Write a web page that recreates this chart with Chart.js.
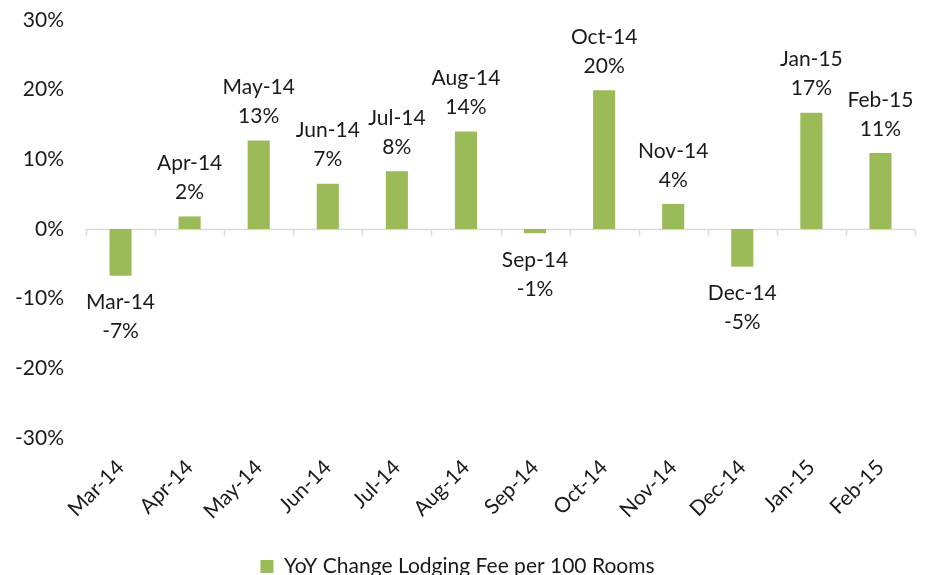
<!DOCTYPE html>
<html>
<head>
<meta charset="utf-8">
<script src="https://cdn.jsdelivr.net/npm/chart.js@4/dist/chart.umd.min.js"></script>
<style>
  html, body { margin: 0; padding: 0; background: #fff; }
  #wrap { width: 928px; height: 575px; position: relative; }
</style>
</head>
<body>
<div id="wrap"><canvas id="main-chart"></canvas></div>
<script>
// ---- Data ----
const MONTHS = ["Mar-14", "Apr-14", "May-14", "Jun-14", "Jul-14", "Aug-14",
                "Sep-14", "Oct-14", "Nov-14", "Dec-14", "Jan-15", "Feb-15"];
const YOY_CHANGE = [-6.7, 1.8, 12.7, 6.5, 8.3, 14.0, -0.6, 19.9, 3.6, -5.4, 16.7, 10.9];
const POINT_LABELS = ["-7%", "2%", "13%", "7%", "8%", "14%", "-1%", "20%", "4%", "-5%", "17%", "11%"];
const SERIES_NAME = "YoY Change Lodging Fee per 100 Rooms";

const BAR_COLOUR = "#9BBB59";
const AXIS_COLOUR = "#D9D9D9";
const TEXT_COLOUR = "#1a1a1a";
const FONT = "Lato, Carlito, 'Open Sans', sans-serif";
const FONT_SIZE = 21;

// ---- Plugin: zero line with category tick marks ----
const zeroAxisPlugin = {
  id: "zeroAxis",
  beforeDatasetsDraw(chart) {
    const { ctx, chartArea } = chart;
    const y = Math.round(chart.scales.y.getPixelForValue(0)) + 0.5;
    const x = chart.scales.x;
    const n = MONTHS.length;
    const step = (x.right - x.left) / n;
    ctx.save();
    ctx.strokeStyle = AXIS_COLOUR;
    ctx.lineWidth = 1.5;
    ctx.beginPath();
    ctx.moveTo(chartArea.left, y);
    ctx.lineTo(chartArea.right, y);
    for (let i = 0; i <= n; i++) {
      const px = Math.round(x.left + i * step) + 0.5;
      ctx.moveTo(px, y);
      ctx.lineTo(px, y + 6);
    }
    ctx.stroke();
    ctx.restore();
  },
};

// ---- Plugin: two-line data labels (month + value) ----
const dataLabelPlugin = {
  id: "dataLabels",
  afterDatasetsDraw(chart) {
    const { ctx } = chart;
    const meta = chart.getDatasetMeta(0);
    ctx.save();
    ctx.font = FONT_SIZE + "px " + FONT;
    ctx.fillStyle = TEXT_COLOUR;
    ctx.textAlign = "center";
    ctx.textBaseline = "middle";
    meta.data.forEach((bar, i) => {
      const v = YOY_CHANGE[i];
      if (v >= 0) {
        ctx.fillText(POINT_LABELS[i], bar.x, bar.y - 24);
        ctx.fillText(MONTHS[i], bar.x, bar.y - 53);
      } else {
        ctx.fillText(MONTHS[i], bar.x, bar.y + 27);
        ctx.fillText(POINT_LABELS[i], bar.x, bar.y + 56);
      }
    });
    ctx.restore();
  },
};

const ctx = document.getElementById("main-chart").getContext("2d");
new Chart(ctx, {
  type: "bar",
  data: {
    labels: MONTHS,
    datasets: [{
      label: SERIES_NAME,
      data: YOY_CHANGE,
      backgroundColor: BAR_COLOUR,
      borderWidth: 0,
      categoryPercentage: 1,
      barPercentage: 0.32,
    }],
  },
  options: {
    responsive: true,
    maintainAspectRatio: false,
    animation: false,
    devicePixelRatio: 1,
    layout: { padding: { top: 20, right: 13, left: 0, bottom: -12 } },
    plugins: {
      legend: {
        position: "bottom",
        labels: {
          boxWidth: 13,
          boxHeight: 13,
          color: TEXT_COLOUR,
          font: { size: FONT_SIZE, family: FONT },
          padding: 0,
        },
      },
      tooltip: { enabled: false },
    },
    scales: {
      x: {
        grid: { display: false, drawTicks: false },
        border: { display: false },
        afterFit: (scale) => {
          scale.height = 118;
          scale.paddingLeft = 0;
          scale.paddingRight = 0;
        },
        ticks: {
          color: TEXT_COLOUR,
          font: { size: FONT_SIZE, family: FONT },
          minRotation: 45,
          maxRotation: 45,
          autoSkip: false,
          padding: 17,
        },
      },
      y: {
        min: -30,
        max: 30,
        grid: { display: false, drawTicks: false },
        border: { display: false },
        afterFit: (scale) => {
          scale.width = 86;
          scale.paddingTop = 0;
          scale.paddingBottom = 0;
        },
        ticks: {
          stepSize: 10,
          color: TEXT_COLOUR,
          font: { size: FONT_SIZE, family: FONT },
          padding: 22,
          callback: (v) => v + "%",
        },
      },
    },
  },
  plugins: [zeroAxisPlugin, dataLabelPlugin],
});
</script>
</body>
</html>
